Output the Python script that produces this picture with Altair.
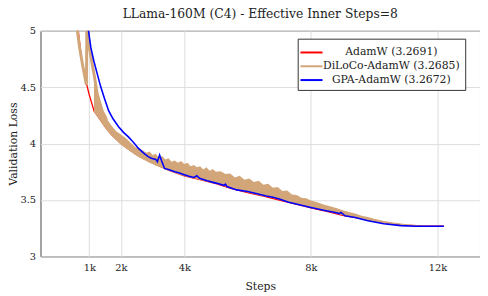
import altair as alt
import pandas as pd

SERIES = ["AdamW (3.2691)", "DiLoCo-AdamW (3.2685)", "GPA-AdamW (3.2672)"]
COLORS = ["#FF0000", "#D2A679", "#0000FF"]

# AdamW (red)
adam_step = [640, 765, 836, 992, 1150, 1250, 1400, 1550, 1700, 1850, 2000, 2300, 2600, 3000,
             3500, 4000, 4500, 5000, 5500, 6000, 6500, 7000, 7500, 8000, 8500, 9000, 9500, 10000,
             10500, 11000, 11500, 12200]
adam_loss = [5.03, 4.73, 4.62, 4.44, 4.29, 4.25, 4.19, 4.13, 4.08, 4.04, 4.00, 3.94, 3.885, 3.83,
             3.765, 3.715, 3.68, 3.645, 3.60, 3.565, 3.535, 3.50, 3.465, 3.43, 3.40, 3.365, 3.34, 3.31,
             3.29, 3.277, 3.271, 3.2691]

# DiLoCo-AdamW (tan): early saw-tooth line, then noisy band
diloco_step = [600, 700, 800, 910, 925, 1000, 1076, 1160, 1250, 1406, 1550]
diloco_loss = [5.05, 4.84, 4.68, 4.52, 5.10, 4.86, 4.73, 4.60, 4.44, 4.29, 4.21]

band_step = [1150, 1250, 1400, 1550, 1700, 1850, 2000, 2150, 2300, 2450,
             2600, 2700, 2800, 2900, 3000, 3100, 3200, 3300, 3400, 3500, 3600, 3700, 3800, 3900, 4000,
             4100, 4200, 4300, 4400, 4500, 4600, 4700, 4800, 4900, 5000, 5150, 5300, 5450, 5600, 5750,
             5900, 6050, 6200, 6350, 6500, 6650, 6800, 6950, 7100, 7250, 7400, 7550, 7700, 7850, 8000,
             8200, 8400, 8600, 8800, 9000, 9200, 9400, 9600, 9800, 10000, 10300, 10600, 10900, 11200,
             11500, 11800, 12200]
band_lo = [4.28, 4.24, 4.18, 4.12, 4.07, 4.03, 3.99, 3.96, 3.93, 3.90,
           3.875, 3.86, 3.845, 3.83, 3.82, 3.805, 3.795, 3.785, 3.77, 3.76, 3.75, 3.74, 3.73, 3.72, 3.712,
           3.705, 3.698, 3.692, 3.686, 3.678, 3.672, 3.664, 3.658, 3.652, 3.643, 3.633, 3.62, 3.608, 3.594, 3.584,
           3.574, 3.564, 3.554, 3.544, 3.534, 3.528, 3.518, 3.508, 3.494, 3.484, 3.474, 3.46, 3.45, 3.44, 3.43,
           3.42, 3.405, 3.395, 3.38, 3.365, 3.355, 3.345, 3.33, 3.32, 3.31, 3.295, 3.285, 3.277, 3.272,
           3.27, 3.269, 3.2685]
band_hi = [4.60, 4.44, 4.30, 4.22, 4.16, 4.11, 4.08, 4.05, 4.01, 3.97,
           3.95, 3.94, 3.92, 3.93, 3.90, 3.91, 3.87, 3.89, 3.86, 3.87, 3.84, 3.85, 3.83, 3.845, 3.82,
           3.83, 3.80, 3.81, 3.79, 3.80, 3.77, 3.79, 3.76, 3.775, 3.75, 3.755, 3.73, 3.735, 3.70, 3.715,
           3.68, 3.69, 3.66, 3.67, 3.635, 3.645, 3.61, 3.615, 3.58, 3.585, 3.55, 3.545, 3.52, 3.515, 3.495,
           3.48, 3.46, 3.445, 3.43, 3.41, 3.395, 3.38, 3.36, 3.35, 3.335, 3.315, 3.30, 3.29, 3.28,
           3.274, 3.27, 3.2685]

# GPA-AdamW (blue)
gpa_step = [950, 1050, 1146, 1250, 1355, 1480, 1614, 1750, 1925, 2080, 2236, 2400, 2547, 2700,
            2858, 2960, 3100, 3150, 3220, 3280, 3377, 3500, 3700, 3850, 4000, 4150, 4300, 4400, 4450,
            4500, 4723, 5000, 5250, 5300, 5345, 5656, 6000, 6300, 6590, 6800, 7000, 7300, 7600, 8000,
            8400, 8770, 8900, 8950, 9077, 9400, 9800, 10300, 10840, 11300, 11800, 12200]
gpa_loss = [5.05, 4.85, 4.73, 4.62, 4.51, 4.40, 4.29, 4.22, 4.15, 4.10, 4.06, 4.01, 3.96, 3.92,
            3.885, 3.87, 3.86, 3.84, 3.90, 3.85, 3.78, 3.77, 3.75, 3.74, 3.725, 3.71, 3.70, 3.715, 3.70,
            3.69, 3.67, 3.65, 3.63, 3.64, 3.62, 3.59, 3.575, 3.555, 3.535, 3.525, 3.51, 3.48, 3.46, 3.434,
            3.41, 3.39, 3.38, 3.39, 3.36, 3.345, 3.317, 3.29, 3.273, 3.268, 3.267, 3.2672]

x_ticks = [1000, 2000, 4000, 8000, 12000]
y_ticks = [3, 3.5, 4, 4.5, 5]

FONT = "DejaVu Serif"

adam_df = pd.DataFrame({"step": adam_step, "loss": adam_loss, "series": SERIES[0]})
diloco_df = pd.DataFrame({"step": diloco_step, "loss": diloco_loss, "series": SERIES[1]})
gpa_df = pd.DataFrame({"step": gpa_step, "loss": gpa_loss, "series": SERIES[2]})
band_df = pd.DataFrame({"step": band_step, "lo": band_lo, "hi": band_hi})

xs = alt.Scale(domain=[-540, 13340], nice=False, zero=False)
ys = alt.Scale(domain=[3, 5], nice=False, zero=False)
cs = alt.Scale(domain=SERIES, range=COLORS)

x_enc = alt.X("step:Q", scale=xs,
              axis=alt.Axis(values=x_ticks, labelExpr="datum.value/1000 + 'k'", title="Steps",
                            labelPadding=6, titlePadding=9))
y_enc = alt.Y("loss:Q", scale=ys,
              axis=alt.Axis(values=y_ticks, labelExpr="'' + datum.value", title="Validation Loss",
                            labelPadding=5, titleX=-22, titleY=114.5, titleAngle=270,
                            titleAlign="center", titleBaseline="bottom"))
legend = alt.Legend(title=None, orient="none", legendX=261, legendY=8,
                    symbolType="M-1.4,0L1.4,0", symbolSize=256, symbolStrokeWidth=2,
                    strokeColor="#333333", fillColor="white", padding=5,
                    labelFont=FONT, labelFontSize=11, labelColor="#222222", rowPadding=0,
                    labelAlign="center", labelOffset=72, labelLimit=300)
c_enc = alt.Color("series:N", scale=cs, legend=legend)

red = alt.Chart(adam_df).mark_line(clip=True, strokeWidth=1.3).encode(
    x=x_enc, y=y_enc, color=c_enc, order="step:Q")
band = alt.Chart(band_df).mark_area(clip=True, color="#D2A679").encode(
    x=alt.X("step:Q", scale=xs), y=alt.Y("lo:Q", scale=ys), y2="hi:Q")
tan = alt.Chart(diloco_df).mark_line(clip=True, strokeWidth=3).encode(
    x=x_enc, y=y_enc, color=c_enc, order="step:Q")
blue = alt.Chart(gpa_df).mark_line(clip=True, strokeWidth=1.6).encode(
    x=x_enc, y=y_enc, color=c_enc, order="step:Q")

chart = alt.layer(red, band, tan, blue).properties(
    width=446, height=229,
    title=alt.Title("LLama-160M (C4) - Effective Inner Steps=8", font=FONT, fontSize=12.5,
                    fontWeight="normal", color="#222222", offset=5),
    autosize=alt.AutoSizeParams(type="none"),
    padding={"left": 33, "top": 21, "right": 0, "bottom": 38},
).configure_view(
    stroke="#444444", strokeWidth=1
).configure_axis(
    domain=False, ticks=False, grid=True, gridColor="#dcdcdc", gridWidth=1,
    labelFont=FONT, labelFontSize=10, labelColor="#222222",
    titleFont=FONT, titleFontSize=11, titleFontWeight="normal", titleColor="#222222",
)

chart.save("out.html", embed_options={"renderer": "svg", "actions": False})
